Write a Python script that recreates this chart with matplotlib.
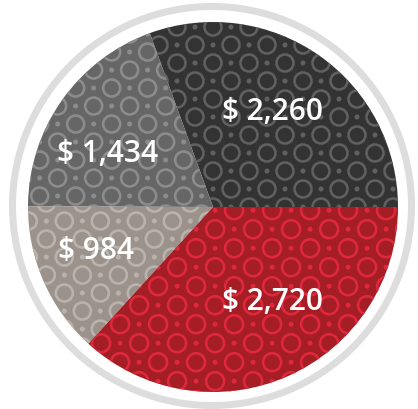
import matplotlib
matplotlib.use("Agg")
import numpy as np
import matplotlib.pyplot as plt
from matplotlib.patches import Circle

# data
categories = ["A", "B", "C", "D"]
values = [2260, 1434, 984, 2720]
labels = ["$ 2,260", "$ 1,434", "$ 984", "$ 2,720"]

# styles
face_colors = ["#333333", "#666666", "#9b928b", "#a51d25"]
pattern_colors = ["#606060", "#8c8c8c", "#bab3ad", "#df283b"]
pattern_cell_px = [18.0, 18.0, 18.0, 19.0]
label_pos = [(0.32, 0.52), (-0.57, 0.29), (-0.63, -0.23), (0.32, -0.51)]

DPI = 100
plt.rcParams['font.family'] = ['Open Sans', 'DejaVu Sans']

fig = plt.figure(figsize=(418 / DPI, 410 / DPI), dpi=DPI)
ax = fig.add_axes([0, 0, 1, 1])

R = 185.0
cx, cy = 213.0, 208.0

wedges, _ = ax.pie(values, startangle=0, counterclock=True, radius=1.0,
                   colors=face_colors, normalize=True,
                   wedgeprops=dict(linewidth=0))

ax.set_axis_off()
ax.set_aspect('auto')

# decorative ring/dot pattern (checkerboard lattice), clipped to each wedge
for k, (w, pc, cpx) in enumerate(zip(wedges, pattern_colors, pattern_cell_px)):
    cell = cpx / R
    n = int(1.3 / cell) + 1
    ii, jj = np.meshgrid(np.arange(-n, n + 1), np.arange(-n, n + 1))
    px = ii.ravel() * cell + (k * 0.37 % 1.0) * cell
    py = jj.ravel() * cell + (k * 0.61 % 1.0) * cell
    ring_mask = ((ii + jj) % 2 == 0).ravel()
    ring_d_pt = (cpx - 1.0) * 72 / DPI
    dot_d_pt = 5.0 * 72 / DPI
    s1 = ax.scatter(px[ring_mask], py[ring_mask], s=ring_d_pt ** 2,
                    marker='o', facecolors='none', edgecolors=pc,
                    linewidths=2.6 * 72 / DPI, zorder=2)
    s2 = ax.scatter(px[~ring_mask], py[~ring_mask], s=dot_d_pt ** 2,
                    marker='o', facecolors=pc, edgecolors='none', zorder=2)
    s1.set_clip_path(w)
    s2.set_clip_path(w)

ax.set_xlim(-cx / R, (418 - cx) / R)
ax.set_ylim(-(410 - cy) / R, cy / R)

ring = Circle((-1.0 / R, 1.0 / R), 199.5 / R, fill=False, edgecolor="#dddddd",
              linewidth=7 * 72 / DPI, zorder=3)
ax.add_patch(ring)

for (x, y), t in zip(label_pos, labels):
    ax.text(x, y, t, color="white", fontsize=21.5, fontweight="semibold",
            ha="center", va="center", zorder=4)

fig.savefig("out.png", dpi=DPI)
